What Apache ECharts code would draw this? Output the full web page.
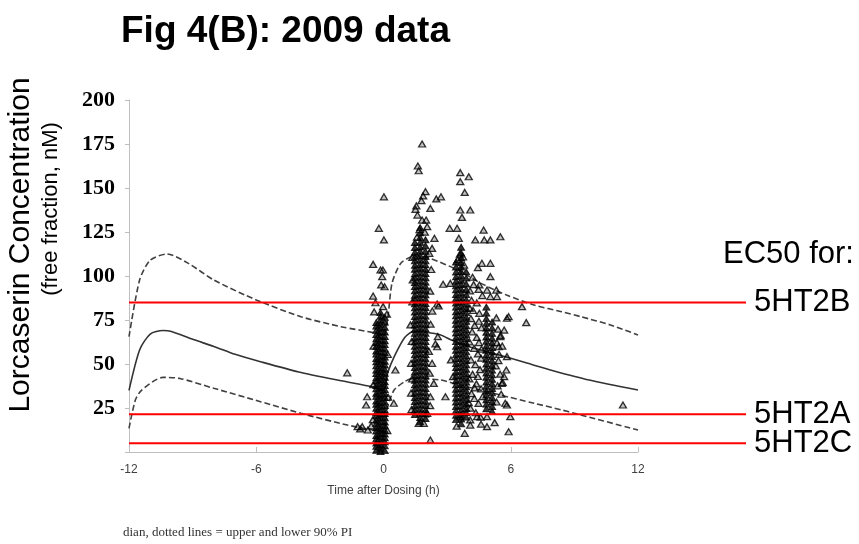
<!DOCTYPE html>
<html>
<head>
<meta charset="utf-8">
<script src="https://cdn.jsdelivr.net/npm/echarts@6/dist/echarts.min.js"></script>
<style>html,body{margin:0;padding:0;background:#fff}#c{width:859px;height:544px}</style>
</head>
<body>
<div id="c"></div>
<script>
// ---- axis ticks ----
const xTicks = [-12, -6, 0, 6, 12];
const yTicks = [0, 25, 50, 75, 100, 125, 150, 175, 200];

// ---- model predictions (time h, conc nM) ----
const medianPred = [[-12,35],[-11.5,58],[-11,67],[-10.4,69],[-10,68.5],[-9,64],[-8,60],[-7,55.5],[-5.8,51.3],[-4,45.5],[-2,40.5],[-0.5,37],[0,35],[0.2,45],[0.5,54],[1,65],[1.4,68.4],[2,68],[2.7,66.5],[3.2,63.6],[4,60],[5.2,56],[6.8,50.4],[8,46.2],[9.7,40.9],[12,35.2]];
const upperPI = [[-12,65.5],[-11.5,97.7],[-11,109],[-10.2,112.5],[-9.2,107.2],[-8,97.7],[-6,86.4],[-3.9,76.9],[-2,71.2],[-0.3,67.4],[0,66],[0.2,76],[0.4,95.8],[0.8,107],[1.3,111],[1.6,111.4],[2.2,110],[3.5,103.4],[4.6,95.8],[5.8,89.2],[7.1,83.5],[8.4,79.7],[9.3,76.9],[10.7,72.2],[12,66.5]];
const lowerPI = [[-12,13.4],[-11.7,29.5],[-11.4,35.2],[-10.4,42.4],[-9.6,41.8],[-8,36.2],[-5.8,28.6],[-3.9,22],[-1.7,15.3],[-0.5,12.5],[0,12],[0.2,25.8],[0.5,35.2],[1,40],[1.4,41.9],[2.7,40.9],[3.3,39],[5.5,32.4],[7.1,27.7],[8.4,23.9],[9,22],[12,12.5]];

// ---- EC50 reference levels ----
const ec50Names = ['5HT2B', '5HT2A', '5HT2C'];
const ec50Values = [85, 21.5, 5];

// ---- observed concentrations: dense sampling columns ----
const preDoseTimes = [-0.34, -0.14, 0.06];
const preDoseConc = [
  [1.0,3.2,5.1,7.5,9.4,11.9,13.8,16.2,18.1,20.6,22.4,24.9,27.1,29.0,31.6,33.4,35.9,37.7,40.3,42.1,44.6,46.5,49.0,51.2,53.1,55.6,57.4,60.1,62.2,64.3,66.8,69.1,71.5,73.6],
  [0.2,2.1,4.3,6.2,8.6,10.5,12.9,14.7,17.2,19.3,21.4,23.6,25.8,27.9,30.2,32.3,34.6,36.7,38.9,41.2,43.3,45.6,47.7,50.1,52.3,54.4,56.8,58.9,61.2,63.5,65.7,68.0,70.3,72.6,74.9,77.1,79.2],
  [0.8,3.6,5.8,8.1,10.2,12.4,14.9,17.0,19.5,21.8,23.9,26.4,28.5,31.0,33.2,35.5,37.8,39.9,42.5,44.7,47.0,49.4,51.6,53.9,56.3,58.6,61.0,63.2,65.6,68.2,70.9,73.8,76.5]
];
const peak2hTimes = [1.48, 1.73, 1.98];
const peak2hConc = [
  [21.3,23.8,26.1,28.7,31.0,33.4,35.9,38.2,40.8,43.1,45.5,48.0,50.4,52.7,55.3,57.6,60.1,62.5,64.8,67.4,69.7,72.2,74.6,77.0,79.5,81.9,84.2,86.8,89.1,91.6,94.0,96.3,98.9,101.2,103.8,106.1,108.6,111.0,113.5,116.2,119.0],
  [17.2,19.6,22.0,24.5,26.9,29.3,31.8,34.1,36.6,39.0,41.4,43.9,46.2,48.7,51.1,53.5,56.0,58.3,60.8,63.2,65.6,68.1,70.4,72.9,75.3,77.7,80.2,82.5,85.0,87.4,89.8,92.3,94.6,97.1,99.5,101.9,104.4,106.7,109.2,111.6,114.0,116.5,119.1,121.8,124.6,127.5],
  [19.0,21.5,23.9,26.4,28.8,31.2,33.7,36.0,38.5,40.9,43.3,45.8,48.1,50.6,53.0,55.4,57.9,60.2,62.7,65.1,67.5,70.0,72.3,74.8,77.2,79.6,82.1,84.4,86.9,89.3,91.7,94.2,96.5,99.0,101.4,103.8,106.3,108.6,111.1,114.0,117.2,120.6]
];
const peak4hTimes = [3.42, 3.66, 3.9];
const peak4hConc = [
  [18.4,20.9,23.5,25.8,28.4,30.7,33.3,35.6,38.2,40.5,43.1,45.4,48.0,50.3,52.9,55.2,57.8,60.1,62.7,65.0,67.6,69.9,72.5,74.8,77.4,79.7,82.3,84.6,87.2,89.5,92.1,94.4,97.0,99.5,102.3,105.1,108.0],
  [16.1,18.7,21.2,23.6,26.2,28.5,31.1,33.5,36.0,38.4,41.0,43.3,45.9,48.3,50.8,53.2,55.8,58.1,60.7,63.1,65.6,68.0,70.6,72.9,75.5,77.9,80.4,82.8,85.4,87.7,90.3,92.7,95.2,97.6,100.2,102.5,105.1,107.5,110.2,113.1,116.3],
  [19.8,22.4,24.7,27.3,29.8,32.2,34.8,37.1,39.7,42.1,44.6,47.0,49.6,51.9,54.5,56.9,59.4,61.8,64.4,66.7,69.3,71.7,74.2,76.6,79.2,81.5,84.1,86.6,89.4,92.3,95.5,98.8,102.4]
];
const late5hTimes = [4.85, 5.12];
const late5hConc = [
  [24.5,27.2,29.6,32.3,34.7,37.4,39.8,42.5,44.9,47.6,50.0,52.7,55.1,57.8,60.2,62.9,65.3,68.0,70.4,73.1,75.8,78.9,82.3],
  [23.1,25.9,28.4,31.0,33.6,36.1,38.8,41.3,43.9,46.5,49.0,51.7,54.2,56.8,59.4,61.9,64.6,67.4,70.5,73.9]
];
// ---- observed concentrations: individually readable points ----
const scatterObs = [
  [0.02,145],[-0.22,127.1],[0.02,120.5],[-0.49,106.6],[-0.14,103.4],[-0.03,103.4],[-0.06,99.6],[-0.11,94.9],[0.05,93.9],[-0.49,88.6],[-0.38,84.8],[-0.02,82.6],[-0.44,79.6],[0.16,78.3],[-0.47,60.1],[0.2,55.4],[-0.48,38.2],[0.22,31.1],[-0.5,18.4],[0.18,12.2],
  [-1.71,45],[-0.77,31.4],[-0.82,26.7],[-1.0,14.4],[-0.74,12.5],[-1.22,14.4],[-1.1,13.1],[-0.58,14.8],[0.56,46.6],[0.485,27.7],[11.29,26.7],
  [1.27,72.2],[1.30,50.4],[1.33,62.8],[1.35,41.6],[1.3,33.5],[1.36,85.3],[1.38,97.8],[1.32,24.1],[1.36,110.5],
  [2.56,65.5],[2.53,59.8],[2.53,84.1],[2.45,61.4],[2.29,50.4],[2.37,39.0],[2.21,31.4],[2.06,22.0],[1.90,16.3],[1.66,16.3],[2.18,44.8],[2.22,72.6],[2.2,91.4],[2.25,103.7],[2.16,112.9],[2.3,80.1],[2.14,57.2],[2.2,26.3],[2.6,83.0],[2.81,95.3],[3.15,95.8],[3.18,52.3],[3.28,42.8],[2.92,31.4],[2.21,6.8],
  [1.82,175],[1.62,162.5],[1.66,159.8],[1.98,147.9],[1.87,145.5],[1.79,142.8],[2.49,143.8],[2.71,145],[1.55,139.8],[1.51,137.9],[2.21,138.4],[1.82,131.8],[2.01,131.8],[2.06,128],[2.40,121.4],[2.29,115.7],[1.6,134.6],[1.7,126.3],[1.95,124.9],[1.58,122.1],
  [4.02,156.4],[3.62,158.7],[3.62,153.6],[3.83,147.5],[3.62,137.5],[4.09,137.5],[3.70,133.3],[3.12,127.1],[3.47,127.1],[4.72,126.1],[4.75,120.5],[5.04,120.5],[4.33,120.5],[5.51,122.3],[3.55,121.4],[4.64,107.2],[5.04,107.2],[5.04,99.6],[4.52,94.9],[4.48,92.4],[4.88,92.0],[5.32,92.0],[5.04,88.3],[5.35,88.3],[3.6,112.4],[3.75,110.9],[3.5,109.3],[3.8,106.2],
  [3.62,20.1],[4.09,18.2],[4.41,20.1],[4.88,20.1],[5.24,16.7],[4.09,15.3],[3.83,10.6],[3.45,14.7],[4.6,15.8],[4.88,14.4],
  [4.08,91.5],[4.15,86.2],[4.22,80.4],[4.12,75.8],[4.3,71.9],[4.18,68.3],[4.4,65.1],[4.05,62.6],[4.27,58.9],[4.45,55.7],[4.12,52.4],[4.33,49.6],[4.55,46.8],[4.2,44.1],[4.05,41.5],[4.38,38.7],[4.6,35.9],[4.15,33.2],[4.28,30.4],[4.48,27.6],[4.1,24.9],[4.35,22.3],[4.58,19.8],[4.5,62.2],[4.62,70.6],[4.52,78.8],[4.4,84.7],[4.66,88.9],[4.25,95.1],[4.6,53.3],[4.45,42.9],[4.68,31.5],[4.02,28.1],[4.3,36.4],[4.5,74.3],[4.07,81.7],[4.62,58.4],[4.2,99.3],[4.45,104.8],
  [5.32,76.2],[5.4,69.8],[5.35,62.1],[5.45,55.5],[5.3,48.9],[5.5,44.2],[5.38,37.6],[5.55,32.8],[5.33,28.4],[5.6,60.2],[5.52,66.3],[5.42,51.9],[5.62,39.5],
  [5.82,76.0],[5.9,76.9],[5.69,69.3],[5.51,65.5],[5.43,59.8],[5.82,54.2],[5.69,42.8],[5.58,39.0],[5.79,46.6],[5.74,27.7],[5.82,26.7],[5.98,20.1],[5.9,11.5],[6.53,82.6],[6.73,73.5]
];

// ---- build observation list from the arrays ----
const denseStyle = {color:'#000', borderColor:'#000', borderWidth:1};
const obs = [];
function addColumns(times, concs){ times.forEach((t,i)=>concs[i].forEach(c=>obs.push({value:[t,c], itemStyle:denseStyle}))); }
addColumns(preDoseTimes, preDoseConc);
addColumns(peak2hTimes, peak2hConc);
addColumns(peak4hTimes, peak4hConc);
addColumns(late5hTimes, late5hConc);
scatterObs.forEach(p=>obs.push(p));

const chart = echarts.init(document.getElementById('c'), null, {renderer:'canvas'});
const sans = '"Liberation Sans", Arial, sans-serif';
const serif = '"Liberation Serif", "Times New Roman", serif';

const ecSeries = ec50Names.map((n,i)=>({
  name:n, type:'line', xAxisIndex:1, yAxisIndex:1, z:6,
  data:[[0,ec50Values[i]],[1,ec50Values[i]]],
  showSymbol:false, silent:true,
  lineStyle:{color:'#ff0000', width:2},
  endLabel:{show:true, formatter:'{a}', fontFamily:sans, fontSize:31, color:'#000', distance:8}
}));

chart.setOption({
  animation:false,
  backgroundColor:'#fff',
  grid:[
    {left:129, right:221, top:100, bottom:92},
    {left:129, right:113, top:100, bottom:92}
  ],
  xAxis:[
    {gridIndex:0, type:'value', min:xTicks[0], max:xTicks[xTicks.length-1], interval:6,
     axisLine:{show:true, onZero:false, lineStyle:{color:'#bfbfbf', width:1}},
     axisTick:{show:true, inside:true, length:5, lineStyle:{color:'#bfbfbf'}},
     splitLine:{show:false},
     axisLabel:{color:'#404040', fontSize:12, fontFamily:sans, margin:12},
     name:'Time after Dosing (h)', nameLocation:'middle', nameGap:33,
     nameTextStyle:{color:'#404040', fontSize:12, fontFamily:sans}},
    {gridIndex:1, type:'value', min:0, max:1, show:false}
  ],
  yAxis:[
    {gridIndex:0, type:'value', min:yTicks[0], max:yTicks[yTicks.length-1], interval:25,
     axisLine:{show:true, onZero:false, lineStyle:{color:'#bfbfbf', width:1}},
     axisTick:{show:true, length:4, lineStyle:{color:'#bfbfbf'}},
     splitLine:{show:false},
     axisLabel:{color:'#000', fontSize:22, fontWeight:'bold', fontFamily:serif, margin:14,
       formatter:v=> v===0 ? '' : String(v)}},
    {gridIndex:1, type:'value', min:0, max:200, show:false}
  ],
  graphic:[
    {type:'text', left:121, top:13, style:{text:'Fig 4(B): 2009 data', font:'bold 37px "Liberation Sans", Arial', fill:'#000'}},
    {type:'text', x:21, y:245, rotation:Math.PI/2, style:{text:'Lorcaserin Concentration', font:'30px "Liberation Sans", Arial', fill:'#000', textAlign:'center', textVerticalAlign:'middle'}},
    {type:'text', x:51, y:209, rotation:Math.PI/2, style:{text:'(free fraction, nM)', font:'22px "Liberation Sans", Arial', fill:'#000', textAlign:'center', textVerticalAlign:'middle'}},
    {type:'text', x:723, y:254, style:{text:'EC50 for:', font:'31px "Liberation Sans", Arial', fill:'#000', textAlign:'left', textVerticalAlign:'middle'}},
    {type:'text', x:123, y:533, style:{text:'dian, dotted lines = upper and lower 90% PI', font:'13px "Liberation Serif", "Times New Roman"', fill:'#333', textAlign:'left', textVerticalAlign:'middle'}}
  ],
  series:[
    {name:'upper 90% PI', type:'line', data:upperPI, showSymbol:false, smooth:0.25, z:2,
     lineStyle:{color:'#404040', width:1.6, type:[6,3]}},
    {name:'lower 90% PI', type:'line', data:lowerPI, showSymbol:false, smooth:0.25, z:2,
     lineStyle:{color:'#404040', width:1.6, type:[6,3]}},
    {name:'median', type:'line', data:medianPred, showSymbol:false, smooth:0.25, z:2,
     lineStyle:{color:'#333', width:1.6}},
    {name:'observed', type:'scatter', data:obs, z:4, symbol:'triangle', symbolSize:[7,6],
     itemStyle:{color:'rgba(0,0,0,0.3)', borderColor:'#000', borderWidth:1.3}},
    ...ecSeries
  ]
});
</script>
</body>
</html>
